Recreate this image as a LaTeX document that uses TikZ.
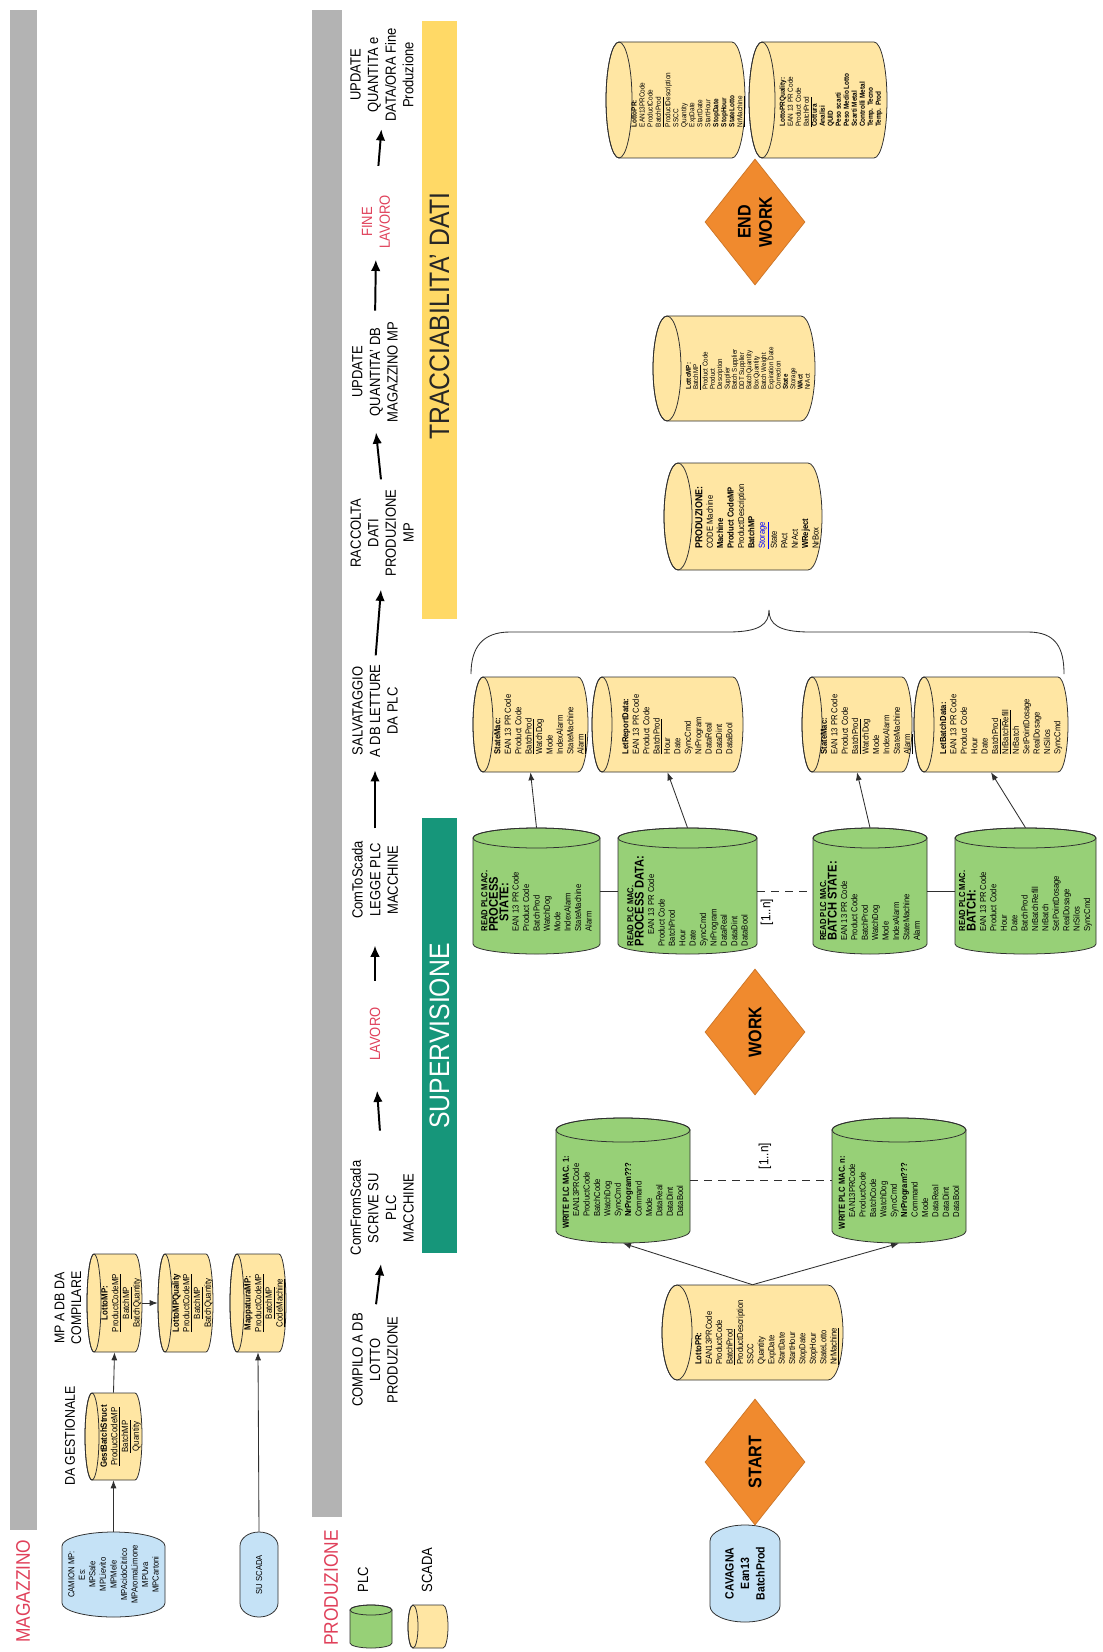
\documentclass[tikz,border=0pt]{standalone}
\usepackage{fontspec}
\setmainfont{Liberation Sans}[FakeStretch=0.88]
\usetikzlibrary{shapes.geometric,arrows.meta,fit,calc}
\definecolor{gband}{HTML}{B3B3B3}
\definecolor{lanered}{HTML}{E0405A}
\definecolor{plcgreen}{HTML}{97D077}
\definecolor{scadayel}{HTML}{FFE6A3}
\definecolor{blueterm}{HTML}{C5E2F6}
\definecolor{orangedia}{HTML}{F08A2E}
\definecolor{supband}{HTML}{16967A}
\definecolor{trband}{HTML}{FFD966}
\definecolor{outline}{HTML}{2F2F2F}
\newcommand\uln[1]{\underline{#1}}
\newcommand\bigb[1]{{\fontsize{9}{10.5}\selectfont\bfseries #1}}
\newcommand\ind{\hspace*{3mm}}
% yellow cylinder, full ellipse on the left: name x0 y0 x1 y1 rx style text
\newcommand\ycyl[8]{%
  \pgfmathsetmacro\cyA{#2+#6}%
  \pgfmathsetmacro\cyB{#4-#6}%
  \pgfmathsetmacro\cyR{(#5-#3)/2}%
  \pgfmathsetmacro\cyC{-(#3+#5)/2}%
  \pgfmathsetmacro\cyT{(#2+2*#6+#4)/2}%
  \filldraw[cylline,fill=scadayel] (\cyA,-#3) -- (\cyB,-#3)
     arc[start angle=90,end angle=-90,x radius=#6*0.25mm,y radius=\cyR*0.25mm]
     -- (\cyA,-#5)
     arc[start angle=270,end angle=90,x radius=#6*0.25mm,y radius=\cyR*0.25mm] -- cycle;
  \draw[cylline] (\cyA,\cyC) ellipse[x radius=#6*0.25mm,y radius=\cyR*0.25mm];
  \node[fit={(#2,-#3)(#4,-#5)},inner sep=0pt] (#1) {};
  \node[#7] (#1-t) at (\cyT,\cyC) {#8};
}
% green cylinder, full ellipse on top: name x0 y0 x1 y1 ry style text
\newcommand\gcyl[8]{%
  \pgfmathsetmacro\cyM{(#2+#4)/2}%
  \pgfmathsetmacro\cyW{(#4-#2)/2}%
  \pgfmathsetmacro\cyU{-(#3+#6)}%
  \pgfmathsetmacro\cyL{-(#5-#6)}%
  \pgfmathsetmacro\cyT{-(#3+2*#6+#5)/2}%
  \filldraw[cylline,fill=plcgreen] (#2,\cyU) -- (#2,\cyL)
     arc[start angle=180,end angle=360,x radius=\cyW*0.25mm,y radius=#6*0.25mm]
     -- (#4,\cyU)
     arc[start angle=0,end angle=180,x radius=\cyW*0.25mm,y radius=#6*0.25mm] -- cycle;
  \draw[cylline] (\cyM,\cyU) ellipse[x radius=\cyW*0.25mm,y radius=#6*0.25mm];
  \node[fit={(#2,-#3)(#4,-#5)},inner sep=0pt] (#1) {};
  \node[#7] (#1-t) at (\cyM,\cyT) {#8};
}
% blue terminator: name x0 y0 x1 y1 depth style text
\newcommand\stad[8]{%
  \pgfmathsetmacro\cyM{(#2+#4)/2}%
  \pgfmathsetmacro\cyW{(#4-#2)/2}%
  \pgfmathsetmacro\cyU{-(#3+#6)}%
  \pgfmathsetmacro\cyL{-(#5-#6)}%
  \pgfmathsetmacro\cyC{-(#3+#5)/2}%
  \filldraw[cylline,fill=blueterm] (#2,\cyU)
     arc[start angle=180,end angle=0,x radius=\cyW*0.25mm,y radius=#6*0.25mm]
     -- (#4,\cyL)
     arc[start angle=0,end angle=-180,x radius=\cyW*0.25mm,y radius=#6*0.25mm] -- cycle;
  \node[fit={(#2,-#3)(#4,-#5)},inner sep=0pt] (#1) {};
  \node[#7] (#1-t) at (\cyM,\cyC) {#8};
}
\begin{document}
\begin{tikzpicture}[x=0.25mm,y=0.25mm,
 cylline/.style={draw=outline,line width=0.55pt},
 ctext/.style={rotate=90,align=left,inner sep=0pt,font=\fontsize{6.2}{7.4}\selectfont},
 csmall/.style={ctext,font=\fontsize{5.2}{5.7}\selectfont},
 ctiny/.style={ctext,font=\fontsize{5}{5.2}\selectfont},
 mtext/.style={rotate=90,align=center,inner sep=0pt,font=\fontsize{6.4}{7.6}\selectfont},
 btext/.style={rotate=90,align=center,inner sep=0pt,font=\fontsize{6.2}{7.5}\selectfont},
 cavtext/.style={rotate=90,align=center,inner sep=0pt,font=\bfseries\fontsize{8.5}{11}\selectfont},
 head/.style={rotate=90,align=center,inner sep=0pt,font=\fontsize{10.5}{12.5}\selectfont},
 redhead/.style={head,text=lanered},
 lanetitle/.style={rotate=90,inner sep=0pt,text=lanered,font=\fontsize{14}{16}\selectfont},
 bandtext/.style={rotate=90,inner sep=0pt,font=\fontsize{20}{22}\selectfont},
 flow/.style={line width=1.4pt,-{Latex[length=2.8mm,width=2.4mm]}},
 conn/.style={draw=outline,line width=0.6pt,-{Latex[length=2mm,width=1.5mm]}},
 link/.style={draw=outline,line width=0.6pt},
 dlink/.style={link,dash pattern=on 2mm off 1.5mm},
 dia/.style={diamond,rotate=90,fill=orangedia,draw=orangedia!85!black,line width=0.5pt,inner sep=0pt,minimum width=31.5mm,minimum height=25mm,align=center,font=\bfseries\fontsize{13}{15}\selectfont},
 nlabel/.style={rotate=90,inner sep=0pt,font=\fontsize{9.5}{11}\selectfont}
]
\useasboundingbox (0,0) rectangle (1102,-1652);
\fill[white] (0,0) rectangle (1102,-1652);

% ---------------- lanes
\fill[gband] (10,-10) rectangle (37,-1530);
\node[lanetitle] (magt) at (23,-1591) {MAGAZZINO};
\fill[gband] (312,-10) rectangle (342,-1517);
\node[lanetitle] (prodt) at (331,-1588) {PRODUZIONE};

% ---------------- MAGAZZINO
\node[head,font=\fontsize{10}{12}\selectfont] (dages) at (70,-1436) {DA GESTIONALE};
\node[head,font=\fontsize{10}{12}\selectfont] (mpadb) at (68,-1308) {MP A DB DA\\COMPILARE};
\ycyl{gest}{85}{1393}{142}{1480}{7}{mtext}{\textbf{GestBatchStruct}\\\uln{ProductCodeMP}\\\uln{BatchMP}\\Quantity}
\ycyl{lmp}{87}{1254}{142}{1352}{7}{mtext}{\textbf{LottoMP:}\\\uln{ProductCodeMP}\\\uln{BatchMP}\\BatchQuantity}
\ycyl{lmpq}{158}{1254}{213}{1352}{7}{mtext}{\textbf{LottoMPQuality}\\\uln{ProductCodeMP}\\\uln{BatchMP}\\BatchQuantity}
\ycyl{mapp}{230}{1254}{286}{1352}{7}{mtext}{\textbf{MappaturaMP:}\\\uln{ProductCodeMP}\\\uln{BatchMP}\\\uln{CodeMachine}}
\stad{camion}{62}{1532}{165}{1617}{14}{btext}{CAMION MP:\\Es:\\MPSale\\MPLievito\\MPMele\\MPAcidoCitrico\\MPAromaLimone\\MPUva\\MPCartoni}
\stad{suscada}{240}{1532}{278}{1617}{14}{btext}{SU SCADA}
\draw[conn] (camion.north) -- (gest.south);
\draw[conn] (gest.north) -- (lmp.south);
\draw[conn] (lmp.east) -- (lmpq.west);
\draw[conn] (suscada.north) -- (mapp.south);

% ---------------- legend
\gcyl{legplc}{350}{1605}{392}{1648}{5}{ctext}{}
\node[head] (plclbl) at (363,-1580) {PLC};
\ycyl{legscada}{408}{1605}{448}{1648}{5}{ctext}{}
\node[head] (scadalbl) at (427,-1570) {SCADA};

% ---------------- headings
\node[head] (compilo) at (375,-1360) {COMPILO A DB\\LOTTO\\PRODUZIONE};
\node[head] (comfrom) at (382,-1208) {ComFromScada\\SCRIVE SU\\PLC\\MACCHINE};
\node[redhead] (lavoro) at (375,-1034) {LAVORO};
\node[head] (comto) at (375,-880) {ComToScada\\LEGGE PLC\\MACCHINE};
\node[head] (salv) at (375,-711) {SALVATAGGIO\\A DB LETTURE\\DA PLC};
\node[head] (racc) at (382,-533) {RACCOLTA\\DATI\\PRODUZIONE\\MP};
\node[head] (upd1) at (375,-372) {UPDATE\\QUANTITA' DB\\MAGAZZINO MP};
\node[redhead] (fine) at (376,-222) {FINE\\LAVORO};
\node[head] (upd2) at (382,-75) {UPDATE\\QUANTITA e\\DATA/ORA Fine\\Produzione};
\draw[flow] ($(compilo.east)!0.15!(comfrom.west)$) -- ($(compilo.east)!0.85!(comfrom.west)$);
\draw[flow] ($(comfrom.east)!0.3!(lavoro.west)$) -- ($(comfrom.east)!0.7!(lavoro.west)$);
\draw[flow] ($(lavoro.east)!0.3!(comto.west)$) -- ($(lavoro.east)!0.7!(comto.west)$);
\draw[flow] ($(comto.east)!0.15!(salv.west)$) -- ($(comto.east)!0.85!(salv.west)$);
\draw[flow] ($(salv.east)!0.1!(racc.west)$) -- ($(salv.east)!0.85!(racc.west)$);
\draw[flow] ($(racc.east)!0.15!(upd1.west)$) -- ($(racc.east)!0.85!(upd1.west)$);
\draw[flow] ($(upd1.east)!0.15!(fine.west)$) -- ($(upd1.east)!0.85!(fine.west)$);
\draw[flow] ($(fine.east)!0.4!(upd2.west)$) -- ($(fine.east)!0.9!(upd2.west)$);

% ---------------- bands
\fill[supband] (422,-818) rectangle (457,-1253);
\node[bandtext,text=white] (sup) at (439.5,-1036) {SUPERVISIONE};
\fill[trband] (422,-21) rectangle (457,-619);
\node[bandtext,text=black!85] (trac) at (439.5,-316) {TRACCIABILITA' DATI};

% ---------------- start / write
\stad{cavagna}{710}{1525}{780}{1622}{16}{cavtext}{CAVAGNA\\Ean13\\BatchProd}
\node[dia] (start) at (755,-1462) {START};
\ycyl{lprb}{662}{1285}{843}{1380}{15}{ctext}{\textbf{LottoPR:}\\EAN13PRCode\\ProductCode\\\uln{BatchProd}\\ProductDescription\\SSCC\\Quantity\\ExpDate\\StartDate\\StartHour\\StopDate\\StopHour\\StateLotto\\\uln{NrMachine}}
\gcyl{w1}{556}{1118}{690}{1243}{12}{ctext}{\textbf{WRITE PLC MAC. 1:}\\\ind EAN13PRCode\\\ind ProductCode\\\ind BatchCode\\\ind WatchDog\\\ind SyncCmd\\\ind\textbf{NrProgram???}\\\ind Command\\\ind Mode\\\ind DataReal\\\ind DataDint\\\ind DataBool}
\gcyl{wn}{832}{1118}{966}{1243}{12}{ctext}{\textbf{WRITE PLC MAC. n:}\\\ind EAN13PRCode\\\ind ProductCode\\\ind BatchCode\\\ind WatchDog\\\ind SyncCmd\\\ind\textbf{NrProgram???}\\\ind Command\\\ind Mode\\\ind DataReal\\\ind DataDint\\\ind DataBool}
\draw[conn] (lprb.north) -- (w1.south);
\draw[conn] (lprb.north) -- (wn.south);
\draw[dlink] (w1.east) -- (wn.west);
\node[nlabel] (n1) at (765,-1156) {[1..n]};

% ---------------- work / read
\node[dia] (work) at (755,-1032) {WORK};
\gcyl{rps}{473}{828}{600}{954}{10}{ctext}{\textbf{READ PLC MAC.}\\\bigb{PROCESS}\\\bigb{\hspace*{2.5mm}STATE:}\\EAN 13 PR Code\\Product Code\\BatchProd\\WatchDog\\Mode\\IndexAlarm\\StateMachine\\Alarm}
\gcyl{rpd}{618}{828}{757}{954}{10}{ctext}{\textbf{READ PLC MAC.}\\\bigb{PROCESS DATA:}\\\ind EAN 13 PR Code\\Product Code\\BatchProd\\Hour\\Date\\SyncCmd\\NrProgram\\DataReal\\DataDint\\DataBool}
\gcyl{rbs}{813}{828}{927}{954}{10}{ctext}{\textbf{READ PLC MAC.}\\\bigb{BATCH STATE:}\\EAN 13 PR Code\\Product Code\\BatchProd\\WatchDog\\Mode\\IndexAlarm\\StateMachine\\Alarm}
\gcyl{rb}{955}{828}{1096}{954}{10}{ctext}{\textbf{READ PLC MAC.}\\\bigb{BATCH:}\\EAN 13 PR Code\\Product Code\\Hour\\Date\\BatchProd\\NrBatchRefill\\NrBatch\\SetPointDosage\\RealDosage\\NrSilos\\SyncCmd}
\draw[link] (rps.east) -- (rpd.west);
\draw[dlink] (rpd.east) -- (rbs.west);
\draw[link] (rbs.east) -- (rb.west);
\node[nlabel] (n2) at (767,-912) {[1..n]};

% ---------------- save tables
\ycyl{sm1}{473}{677}{588}{772}{10}{ctext}{\textbf{StateMac:}\\EAN 13 PR Code\\Product Code\\\uln{BatchProd}\\WatchDog\\Mode\\IndexAlarm\\StateMachine\\\uln{Alarm}}
\ycyl{lrd}{592}{677}{743}{772}{10}{ctext}{\textbf{LetReportData:}\\EAN 13 PR Code\\Product Code\\\uln{BatchProd}\\Hour\\Date\\SyncCmd\\NrProgram\\DataReal\\DataDint\\DataBool}
\ycyl{sm2}{802}{677}{912}{772}{10}{ctext}{\textbf{StateMac:}\\EAN 13 PR Code\\Product Code\\\uln{BatchProd}\\WatchDog\\Mode\\IndexAlarm\\StateMachine\\\uln{Alarm}}
\ycyl{lbd}{914}{677}{1068}{772}{10}{ctext}{\textbf{LetBatchData:}\\EAN 13 PR Code\\Product Code\\Hour\\Date\\\uln{BatchProd}\\\uln{NrBatchRefill}\\NrBatch\\SetPointDosage\\RealDosage\\NrSilos\\SyncCmd}
\draw[conn] (rps.north) -- (sm1.south);
\draw[conn] (rpd.north) -- (lrd.south);
\draw[conn] (rbs.north) -- (sm2.south);
\draw[conn] (rb.north) -- (lbd.south);

% ---------------- brace
\draw[link] (471,-674) .. controls (471,-648) and (482,-632) .. (510,-632) -- (728,-632)
   .. controls (760,-632) and (769,-624) .. (769,-610)
   .. controls (769,-624) and (778,-632) .. (810,-632) -- (1028,-632)
   .. controls (1056,-632) and (1064,-648) .. (1064,-674);

% ---------------- traceability tables
\ycyl{prodc}{664}{463}{822}{570}{14}{ctext}{{\fontsize{7.2}{8.2}\selectfont\bfseries PRODUZIONE:}\\CODE Machine\\\textbf{Machine}\\\textbf{Product CodeMP}\\ProductDescription\\\textbf{BatchMP}\\{\color{blue}\uln{Storage}}\\State\\PAct\\NrAct\\\textbf{WReject}\\NrBox}
\ycyl{lmpt}{653}{316}{815}{421}{14}{ctiny}{\textbf{LottoMP:}\\\uln{BatchMP}\\Product Code\\Product\\Description\\Supplier\\Batch Supplier\\DDT Supplier\\BatchQuantity\\BoxQuantity\\Batch Weight\\Expiration Date\\Correction\\\textbf{State}\\Storage\\\textbf{WAct}\\NrAct}
\node[dia] (endw) at (755,-222) {END\\WORK};
\ycyl{lprt}{606}{42}{745}{158}{13}{csmall}{\textbf{LottoPR:}\\EAN13PRCode\\ProductCode\\\uln{BatchProd}\\ProductDescription\\SSCC\\Quantity\\ExpDate\\StartDate\\StartHour\\\textbf{StopDate}\\\textbf{StopHour}\\\textbf{StateLotto}\\\uln{NrMachine}}
\ycyl{lprq}{749}{42}{887}{158}{13}{csmall}{\textbf{LottoPRQuality:}\\EAN 13 PR Code\\Product Code\\\uln{BatchProd}\\\textbf{Cottura}\\\textbf{Analisi}\\\textbf{QUID}\\\textbf{Peso scarti}\\\textbf{Peso Medio Lotto}\\\textbf{Scarti Metal}\\\textbf{Controlli Metal}\\\textbf{Temp. Tecno}\\\textbf{Temp. Prod}}
\end{tikzpicture}
\end{document}
